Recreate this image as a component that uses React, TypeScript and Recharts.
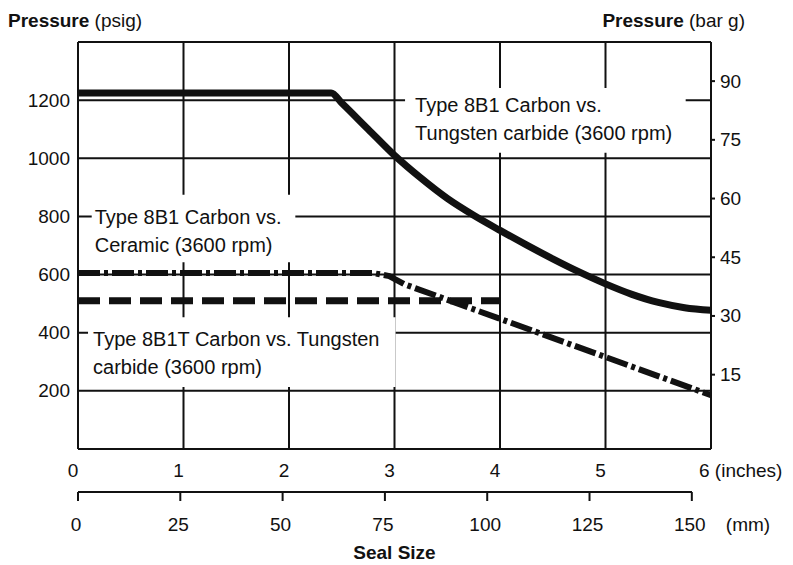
import React from 'react';
import { LineChart, Line, XAxis, YAxis, CartesianGrid, ReferenceArea } from 'recharts';

// axes
const inchTicks = [0, 1, 2, 3, 4, 5, 6];
const mmTicks = [0, 25, 50, 75, 100, 125, 150];
const psigTicks = [0, 200, 400, 600, 800, 1000, 1200, 1400];
const barTicks = [15, 30, 45, 60, 75, 90];

// Type 8B1 carbon vs tungsten carbide: seal size (in) / pressure (psig)
const tcSize = [0, 2.4, 2.5, 2.75, 3, 3.25, 3.5, 3.75, 4, 4.25, 4.5, 4.75, 5, 5.25, 5.5, 5.75, 6];
const tcPsig = [1225, 1225, 1190, 1100, 1010, 932, 862, 804, 752, 702, 654, 609, 568, 532, 504, 486, 477];

// Type 8B1 carbon vs ceramic
const ceramicSize = [0, 2.8, 2.95, 3.1, 6];
const ceramicPsig = [605, 605, 595, 566, 185];

// Type 8B1T carbon vs tungsten carbide
const tTypeSize = [0, 4];
const tTypePsig = [510, 510];

const tcLabel = ['Type 8B1 Carbon vs.', 'Tungsten carbide (3600 rpm)'];
const ceramicLabel = ['Type 8B1 Carbon vs.', 'Ceramic (3600 rpm)'];
const tTypeLabel = ['Type 8B1T Carbon vs. Tungsten', 'carbide (3600 rpm)'];

const MM_PER_IN = 25.4;
const toPoints = (xs: number[], ys: number[]) => xs.map((x, i) => ({ x, y: ys[i] }));
const tcData = toPoints(tcSize, tcPsig);

const FONT = '"Liberation Sans", Arial, sans-serif';
const INK = '#111';

const LeftTick = ({ x, y, payload }: any) => {
  if (payload.value === 0 || payload.value === 1400) return <g />;
  return (
    <text x={x} y={y} textAnchor="end" dominantBaseline="central" fontSize={19} fontFamily={FONT} fill={INK}>
      {payload.value}
    </text>
  );
};

const RightTick = ({ x, y, payload }: any) => (
  <text x={x} y={y} textAnchor="start" dominantBaseline="central" fontSize={19} fontFamily={FONT} fill={INK}>
    {payload.value}
  </text>
);

const InchTick = ({ x, y, payload }: any) => {
  const last = payload.value === inchTicks[inchTicks.length - 1];
  return (
    <text x={last ? x - 12 : x - 5} y={y} textAnchor={last ? 'start' : 'middle'} dominantBaseline="central"
      fontSize={19} fontFamily={FONT} fill={INK}>
      {last ? `${payload.value} (inches)` : payload.value}
    </text>
  );
};

// mm scale ticks are placed in inch units, labelled in mm
const MmTick = ({ x, y, payload }: any) => {
  const mm = Math.round(payload.value * MM_PER_IN);
  const last = mm === mmTicks[mmTicks.length - 1];
  return (
    <g>
      <text x={x - 2} y={y} textAnchor="middle" dominantBaseline="central" fontSize={19} fontFamily={FONT} fill={INK}>
        {mm}
      </text>
      {last && (
        <text x={x + 34} y={y} textAnchor="start" dominantBaseline="central" fontSize={19} fontFamily={FONT} fill={INK}>
          (mm)
        </text>
      )}
    </g>
  );
};

const BoxText = ({ viewBox, lines, padX, padY }: any) => {
  if (!viewBox) return null;
  return (
    <g>
      {lines.map((t: string, i: number) => (
        <text key={i} x={viewBox.x + padX} y={viewBox.y + padY + i * 28} dominantBaseline="central"
          fontSize={20} fontFamily={FONT} fill={INK}>
          {t}
        </text>
      ))}
    </g>
  );
};

const LeftTitle = ({ viewBox }: any) => (
  <text x={viewBox.x} y={viewBox.y - 22} dominantBaseline="central" fontSize={19} fontFamily={FONT} fill={INK}>
    <tspan fontWeight={700}>Pressure</tspan> (psig)
  </text>
);

const RightTitle = ({ viewBox }: any) => (
  <text x={viewBox.x + 34} y={viewBox.y - 22} textAnchor="end" dominantBaseline="central" fontSize={19} fontFamily={FONT} fill={INK}>
    <tspan fontWeight={700}>Pressure</tspan> (bar g)
  </text>
);

const SizeTitle = ({ viewBox }: any) => (
  <text x={viewBox.x + viewBox.width / 2} y={viewBox.y + 60} textAnchor="middle" dominantBaseline="central"
    fontSize={19} fontWeight={700} fontFamily={FONT} fill={INK}>
    Seal Size
  </text>
);

export default function App() {
  return (
    <div style={{ position: 'absolute', left: 0, top: 0, width: 793, height: 565, background: '#fff' }}>
      <LineChart width={793} height={565} data={tcData} margin={{ top: 42, right: 22, bottom: 3, left: 8 }}>
        <CartesianGrid stroke={INK} strokeWidth={2} />
        <XAxis type="number" dataKey="x" domain={[0, 6]} ticks={inchTicks} interval={0} height={43}
          axisLine={false} tickLine={false} tickSize={0} tickMargin={21} tick={<InchTick />} />
        <XAxis xAxisId="mm" type="number" dataKey="x" domain={[0, 6.09]} allowDataOverflow
          ticks={mmTicks.map((v) => v / MM_PER_IN)} interval={0} height={70}
          axisLine={{ stroke: INK, strokeWidth: 2, strokeDasharray: '614 2000' }}
          tickLine={{ stroke: INK, strokeWidth: 2 }} tickSize={9} tickMargin={23} tick={<MmTick />}
          label={<SizeTitle />} />
        <YAxis type="number" domain={[0, 1400]} ticks={psigTicks} interval={0} width={70}
          axisLine={false} tickLine={false} tickSize={0} tickMargin={8} tick={<LeftTick />}
          label={<LeftTitle />} />
        <YAxis yAxisId="bar" orientation="right" type="number" domain={[-4, 100]} allowDataOverflow ticks={barTicks} interval={0}
          width={60} axisLine={false} tickLine={{ stroke: INK, strokeWidth: 2 }} tickSize={4} tickMargin={5}
          tick={<RightTick />} label={<RightTitle />} />

        <ReferenceArea x1={3.1} x2={5.76} y1={1019} y2={1242} fill="#fff" fillOpacity={1} stroke="none"
          label={<BoxText lines={tcLabel} padX={10} padY={17} />} />
        <ReferenceArea x1={0.13} x2={2.06} y1={642} y2={875} fill="#fff" fillOpacity={1} stroke="none"
          label={<BoxText lines={ceramicLabel} padX={3} padY={22} />} />
        <ReferenceArea x1={0.095} x2={3.01} y1={213} y2={453} fill="#fff" fillOpacity={1} stroke="none"
          label={<BoxText lines={tTypeLabel} padX={5} padY={22} />} />

        <Line data={tcData} dataKey="y" type="monotone" stroke={INK} strokeWidth={7}
          dot={false} isAnimationActive={false} />
        <Line data={toPoints(ceramicSize, ceramicPsig)} dataKey="y" type="linear" stroke={INK} strokeWidth={6}
          strokeDasharray="22 4 4 4" dot={false} isAnimationActive={false} />
        <Line data={toPoints(tTypeSize, tTypePsig)} dataKey="y" type="linear" stroke={INK} strokeWidth={7}
          strokeDasharray="22 9" dot={false} isAnimationActive={false} />
      </LineChart>
    </div>
  );
}
